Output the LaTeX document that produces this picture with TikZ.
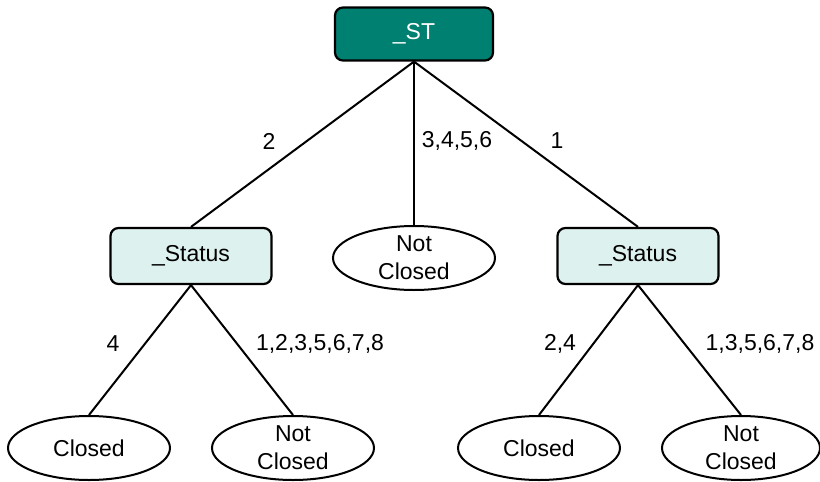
\documentclass[tikz,border=0pt]{standalone}
\usepackage{fontspec}
\setmainfont{Liberation Sans}
\usetikzlibrary{shapes.geometric}

\definecolor{rootteal}{RGB}{0,128,112}
\definecolor{splitcyan}{RGB}{221,241,238}

\tikzset{
    rootbox/.style={draw, line width=2.2pt, rounded corners=8pt, fill=rootteal,
        text=white, minimum width=158pt, minimum height=53pt, inner sep=0pt},
    splitbox/.style={draw, line width=2.2pt, rounded corners=8pt, fill=splitcyan,
        minimum width=161pt, minimum height=56pt, inner sep=0pt},
    leaf/.style={draw, ellipse, line width=2pt, minimum width=162pt,
        minimum height=64pt, inner sep=0pt, align=center},
    branch/.style={line width=2pt},
}

\begin{document}
\begin{tikzpicture}[x=1pt, y=-1pt, font=\fontsize{23}{28}\selectfont]

    \useasboundingbox (0,0) rectangle (820,482);

    % tree nodes
    \node[rootbox] (st) at (414,34) {\_ST};
    \node[splitbox] (statusl) at (191,256) {\_Status};
    \node[leaf] (notclosedm) at (414,258) {Not\\Closed};
    \node[splitbox] (statusr) at (638,256) {\_Status};

    \node[leaf] (closedl) at (89,448) {Closed};
    \node[leaf] (notclosedl) at (293,448) {Not\\Closed};
    \node[leaf] (closedr) at (539,448) {Closed};
    \node[leaf, minimum width=158pt] (notclosedr) at (741,448) {Not\\Closed};

    % branches
    \draw[branch] (st.south) -- (statusl.north);
    \draw[branch] (st.south) -- (notclosedm.north);
    \draw[branch] (st.south) -- (statusr.north);
    \draw[branch] (statusl.south) -- (closedl.north);
    \draw[branch] (statusl.south) -- (notclosedl.north);
    \draw[branch] (statusr.south) -- (closedr.north);
    \draw[branch] (statusr.south) -- (notclosedr.north);

    % branch values
    \node (v2) at (269,141) {2};
    \node (v3456) at (457,141) {3,4,5,6};
    \node (v1) at (557,141) {1};
    \node (v4) at (113,344) {4};
    \node (v1235678) at (320,344) {1,2,3,5,6,7,8};
    \node (v24) at (560,344) {2,4};
    \node (v135678) at (760,344) {1,3,5,6,7,8};

\end{tikzpicture}
\end{document}
